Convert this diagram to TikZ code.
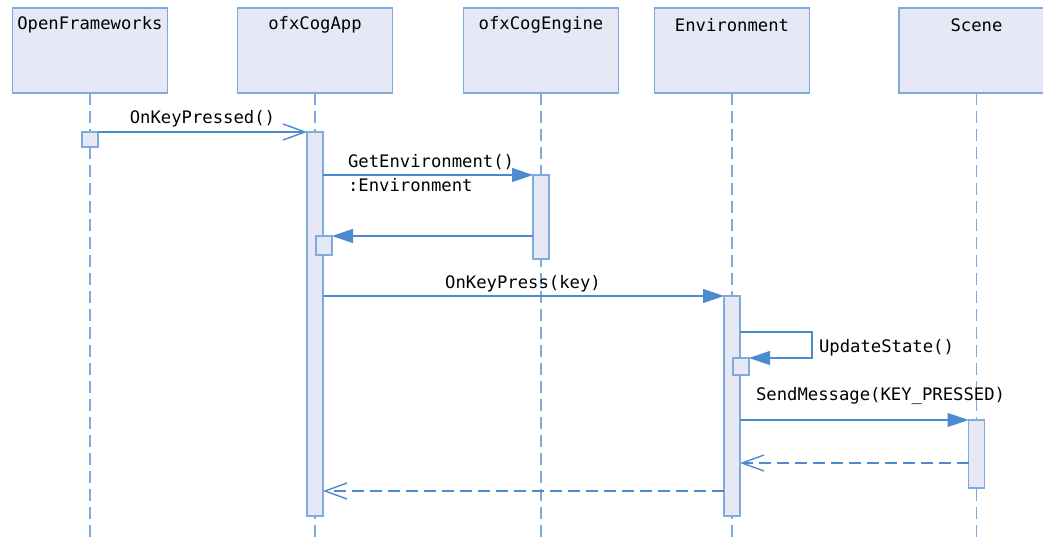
\documentclass[tikz,border=0pt]{standalone}
\usepackage{fontspec}
\setmainfont{DejaVu Sans Mono}
\usetikzlibrary{arrows.meta,calc}
\definecolor{bordc}{RGB}{126,170,222}
\definecolor{msgc}{RGB}{78,138,206}
\definecolor{fillc}{RGB}{230,233,245}
\begin{document}
\begin{tikzpicture}[x=1bp,y=-1bp,
  every node/.style={font=\fontsize{17.3}{20}\selectfont, inner sep=0pt, outer sep=0pt},
  head/.style={draw=bordc, fill=fillc, line width=1.3bp, minimum width=155bp, minimum height=85bp},
  bar/.style={draw=bordc, fill=fillc, line width=1.3bp, minimum width=16bp},
  life/.style={draw=bordc, line width=1.3bp, dash pattern=on 12bp off 6bp},
  msg/.style={draw=msgc, line width=1.3bp, -{Triangle[length=21bp,width=14bp]}},
  reply/.style={draw=msgc, line width=1.3bp, -{Straight Barb[length=22bp,width=16bp,line width=1.4bp]}},
  dreply/.style={reply, dash pattern=on 12bp off 6bp}]
\useasboundingbox (0,0) rectangle (1043,541);
\begin{scope}
\clip (0,0) rectangle (1043,541);
% heads
\node[head] (of)  at (90,50.5) {};
\node[head] (app) at (315,50.5) {};
\node[head] (eng) at (541,50.5) {};
\node[head] (env) at (732,50.5) {};
\node[head] (sc)  at (976.5,50.5) {};
\end{scope}
\node at ([yshift=-17bp]of.north)  {OpenFrameworks};
\node at ([yshift=-17bp]app.north) {ofxCogApp};
\node at ([yshift=-17bp]eng.north) {ofxCogEngine};
\node at ([yshift=-17bp]env.north) {Environment};
\node at ([yshift=-17bp]sc.north)  {Scene};
% lifeline ends
\coordinate (ofe)  at (90,541);
\coordinate (appe) at (315,541);
\coordinate (enge) at (541,541);
\coordinate (enve) at (732,541);
\coordinate (sce)  at (976.5,541);
\draw[life] (of.south) -- (ofe);
\draw[life] (app.south) -- (appe);
\draw[life] (eng.south) -- (enge);
\draw[life] (env.south) -- (enve);
\draw[life] (sc.south) -- (sce);
% activation bars
\node[bar, minimum height=15bp]  (ofsq)   at (90,139.5) {};
\node[bar, minimum height=384bp] (appbar) at (315,324) {};
\node[bar, minimum height=84bp]  (engbar) at (541,217) {};
\node[bar, minimum height=19bp]  (appsq)  at (324,245.5) {};
\node[bar, minimum height=220bp] (envbar) at (732,406) {};
\node[bar, minimum height=17bp]  (envsq)  at (741,366.5) {};
\node[bar, minimum height=68bp]  (scbar)  at (976.5,454) {};
% messages
\draw[reply] (ofsq.north east) -- (ofsq.north east -| appbar.west);
\node (m1) at (202.5,119) {OnKeyPressed()};
\draw[msg] (appbar.east |- engbar.north) -- (engbar.north west);
\node[anchor=west] (m2) at (348,162) {GetEnvironment()};
\node[anchor=west] (m2r) at (348,185) {:Environment};
\draw[msg] (engbar.west |- appsq.north) -- (appsq.north east);
\draw[msg] (appbar.east |- envbar.north) -- (envbar.north west);
\node (m4) at (523,284) {OnKeyPress(key)};
\coordinate (selfr) at (812,332);
\draw[msg] (envbar.east |- selfr) -- (selfr) |- (envsq.north east);
\node[anchor=west] (m5) at (819,348) {UpdateState()};
\draw[msg] (envbar.east |- scbar.north) -- (scbar.north west);
\node[anchor=west] (m6) at (756,395.5) {SendMessage(KEY\_PRESSED)};
\coordinate (r7) at (0,463);
\draw[dreply] (scbar.west |- r7) -- (envbar.east |- r7);
\coordinate (r8) at (0,491);
\draw[dreply] (envbar.west |- r8) -- (appbar.east |- r8);
\end{tikzpicture}
\end{document}
